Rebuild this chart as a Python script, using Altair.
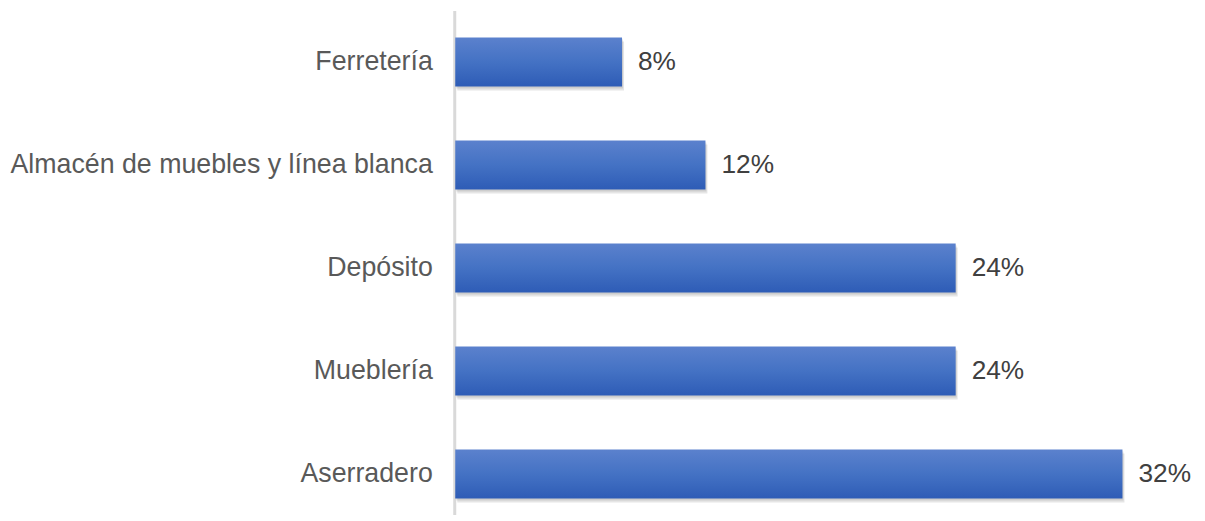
import altair as alt
import pandas as pd

categories = ["Ferretería", "Almacén de muebles y línea blanca", "Depósito", "Mueblería", "Aserradero"]
values = [8, 12, 24, 24, 32]

df = pd.DataFrame({"cat": categories, "value": values})

yenc = alt.Y(
    "cat:N",
    sort=categories,
    title=None,
    scale=alt.Scale(range=[0, 516], paddingInner=0.525, paddingOuter=0.2625),
    axis=alt.Axis(
        ticks=False,
        labelFont="Liberation Sans",
        labelFontSize=26.8,
        labelColor="#595959",
        labelPadding=22,
        labelLimit=600,
        domainColor="#d9d9d9",
        domainWidth=3,
        offset=1,
        grid=False,
    ),
)
xenc = alt.X("value:Q", scale=alt.Scale(domain=[0, 35], nice=False), axis=None)

base = alt.Chart(df)

shadow1 = base.mark_bar(color="#000000", opacity=0.10, xOffset=1, yOffset=2).encode(x=xenc, y=yenc)
shadow2 = base.mark_bar(color="#000000", opacity=0.10, xOffset=2, yOffset=4).encode(x=xenc, y=yenc)

bars = base.mark_bar(
    color=alt.Gradient(
        gradient="linear",
        stops=[
            alt.GradientStop(color="#5b81cd", offset=0),
            alt.GradientStop(color="#4472c4", offset=0.5),
            alt.GradientStop(color="#2e5cb6", offset=1),
        ],
        x1=0, x2=0, y1=0, y2=1,
    )
).encode(x=xenc, y=yenc)

text = base.transform_calculate(lbl="datum.value + '%'").mark_text(
    align="left", baseline="middle", dx=16, font="Liberation Sans", fontSize=26.3, color="#404040"
).encode(x=xenc, y=yenc, text="lbl:N")

chart = (
    alt.layer(shadow2, shadow1, bars, text)
    .properties(
        width=731,
        height=505,
        autosize=alt.AutoSizeParams(type="none"),
        padding={"left": 448, "top": 2, "right": 12, "bottom": 0},
    )
    .configure_view(stroke=None)
)

chart.save("out.html", embed_options={"renderer": "svg", "actions": False})
